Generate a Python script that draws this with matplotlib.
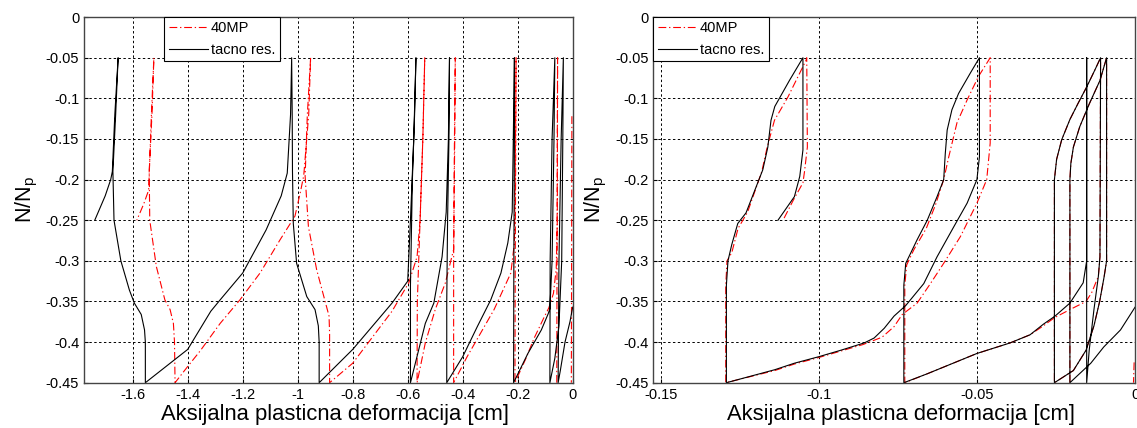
import numpy as np
import matplotlib.pyplot as plt

# -------------------------------------------------------------
# Data
# -------------------------------------------------------------
nan = np.nan

# left panel, "tacno res." (exact result)
left_exact_x = [0.0, -0.01, -0.028, -0.045, -0.053,
                -0.05, -0.042, -0.034,
                -0.036, -0.04, -0.05, -0.065, -0.083,
                -0.082, -0.075, -0.065,
                -0.068, -0.075, -0.083,
                -0.089, -0.114, -0.163, -0.215,
                -0.214, -0.212, -0.212,
                -0.216, -0.22,
                -0.236, -0.261, -0.298, -0.347, -0.40, -0.458,
                -0.458, -0.455, -0.45, -0.448,
                -0.452, -0.46, -0.475,
                -0.505, -0.536, -0.59,
                -0.59, -0.583, -0.575, -0.570,
                -0.578, -0.59, -0.60,
                -0.657, -0.80, -0.922,
                -0.922, -0.925, -0.937, -0.967, -1.004, -1.016, -1.019, -1.02, -1.022,
                -1.026, -1.038,
                -1.06, -1.115, -1.2, -1.282, -1.316, -1.40, -1.554,
                -1.554, -1.557, -1.569, -1.594, -1.612, -1.643, -1.668, -1.672, -1.662, -1.653,
                -1.665, -1.674, -1.68,
                -1.70, -1.738]
left_exact_y = [-0.357, -0.375, -0.40, -0.435, -0.45,
                -0.30, -0.15, -0.05,
                -0.15, -0.30, -0.38, -0.42, -0.45,
                -0.30, -0.15, -0.05,
                -0.15, -0.30, -0.359,
                -0.365, -0.385, -0.414, -0.45,
                -0.30, -0.15, -0.05,
                -0.15, -0.24,
                -0.278, -0.315, -0.348, -0.381, -0.418, -0.45,
                -0.35, -0.25, -0.15, -0.05,
                -0.15, -0.24, -0.295,
                -0.352, -0.377, -0.45,
                -0.33, -0.20, -0.12, -0.05,
                -0.15, -0.25, -0.325,
                -0.352, -0.409, -0.45,
                -0.40, -0.38, -0.36, -0.344, -0.303, -0.254, -0.19, -0.12, -0.05,
                -0.12, -0.192,
                -0.22, -0.262, -0.315, -0.348, -0.362, -0.409, -0.45,
                -0.40, -0.385, -0.366, -0.352, -0.336, -0.30, -0.25, -0.19, -0.12, -0.05,
                -0.12, -0.19, -0.20,
                -0.22, -0.25]

# left panel, "40MP"
left_40mp_x = [-0.003, -0.004, -0.005, nan,
               -0.058, -0.057, -0.056, -0.055,
               -0.056, -0.06, -0.07, -0.087,
               -0.102, -0.14, -0.17, -0.21,
               -0.209, -0.207, -0.206,
               -0.208, -0.212,
               -0.225, -0.286, -0.384, -0.433,
               -0.433, -0.43, -0.427,
               -0.429, -0.433,
               -0.463, -0.50, -0.536, -0.566,
               -0.565, -0.555, -0.545, -0.538,
               -0.545, -0.555, -0.566,
               -0.596, -0.657, -0.80, -0.884,
               -0.884, -0.886, -0.901, -0.931, -0.961, -0.973, -0.965, -0.953,
               -0.96, -0.972, -0.978,
               -0.99, -1.01, -1.064, -1.137, -1.21, -1.282, -1.355, -1.40, -1.446,
               -1.448, -1.452, -1.464, -1.483, -1.514, -1.538, -1.540, -1.53, -1.523,
               -1.532, -1.542,
               -1.56, -1.585]
left_40mp_y = [-0.122, -0.30, -0.45, nan,
               -0.45, -0.30, -0.15, -0.05,
               -0.25, -0.31, -0.34, -0.358,
               -0.368, -0.395, -0.42, -0.45,
               -0.30, -0.15, -0.05,
               -0.15, -0.278,
               -0.315, -0.36, -0.418, -0.45,
               -0.30, -0.15, -0.05,
               -0.15, -0.286,
               -0.327, -0.36, -0.401, -0.45,
               -0.35, -0.25, -0.15, -0.05,
               -0.15, -0.25, -0.295,
               -0.327, -0.362, -0.426, -0.45,
               -0.39, -0.368, -0.349, -0.311, -0.258, -0.196, -0.12, -0.05,
               -0.12, -0.17, -0.195,
               -0.215, -0.245, -0.274, -0.315, -0.348, -0.377, -0.411, -0.43, -0.45,
               -0.40, -0.377, -0.36, -0.348, -0.307, -0.25, -0.19, -0.12, -0.05,
               -0.12, -0.213,
               -0.23, -0.25]

# right panel, "tacno res."
right_exact_x = [0.0, -0.0046, -0.0099, -0.014, -0.0206,
                 -0.0206, -0.0206, -0.0203, -0.0195, -0.0175, -0.0145, -0.0111, -0.009,
                 -0.009, -0.0098, -0.0112, -0.013, -0.0155, -0.0195, -0.0255,
                 -0.0255, -0.0248, -0.0232, -0.0206, -0.018, -0.0153, -0.0127, -0.0109,
                 -0.0111, -0.0116, -0.013, -0.0145, -0.0153,
                 -0.0153, -0.0153,
                 -0.0164, -0.0206, -0.0253, -0.029, -0.0332,
                 -0.0395, -0.05, -0.0657, -0.0731,
                 -0.0731, -0.0725, -0.0715, -0.0689, -0.0657, -0.0626, -0.0605, -0.06,
                 -0.0594, -0.0579, -0.0558, -0.0521, -0.0492,
                 -0.0492, -0.05, -0.0531, -0.0573, -0.0626, -0.0668, -0.0725, -0.0762,
                 -0.0793, -0.0825, -0.0856, -0.093, -0.1, -0.1077, -0.1139, -0.1292,
                 -0.1292, -0.1287, -0.1275, -0.1256, -0.123, -0.1177, -0.1161, -0.1151,
                 -0.1139, -0.1092, -0.105,
                 -0.105, -0.106, -0.1077, -0.1129]
right_exact_y = [-0.357, -0.385, -0.406, -0.426, -0.45,
                 -0.30, -0.20, -0.18, -0.16, -0.135, -0.107, -0.078, -0.05,
                 -0.30, -0.32, -0.35, -0.38, -0.41, -0.435, -0.45,
                 -0.20, -0.175, -0.151, -0.126, -0.106, -0.086, -0.065, -0.05,
                 -0.295, -0.319, -0.36, -0.41, -0.45,
                 -0.05, -0.30,
                 -0.327, -0.352, -0.368, -0.378, -0.391,
                 -0.401, -0.414, -0.439, -0.45,
                 -0.33, -0.303, -0.295, -0.274, -0.25, -0.221, -0.20, -0.168,
                 -0.139, -0.114, -0.094, -0.069, -0.05,
                 -0.172, -0.20, -0.229, -0.258, -0.295, -0.328, -0.355, -0.368,
                 -0.383, -0.395, -0.401, -0.41, -0.418, -0.426, -0.434, -0.45,
                 -0.33, -0.30, -0.28, -0.254, -0.241, -0.188, -0.16, -0.127,
                 -0.11, -0.0775, -0.05,
                 -0.1635, -0.196, -0.221, -0.25]

# right panel, "40MP"
right_40mp_x = [-0.0003, -0.0005, nan,
                -0.0206, -0.0206, -0.0203, -0.0195, -0.0175, -0.0145, -0.0111, -0.009,
                -0.009, -0.0098, -0.0112, -0.013, -0.0155, -0.0195, -0.0255,
                -0.0255, -0.0248, -0.0232, -0.0206, -0.018, -0.0153, -0.0127, -0.0109,
                -0.0111, -0.0116, -0.0137, -0.0155, -0.0206, -0.0255, -0.029, -0.0332,
                -0.0395, -0.05, -0.0657, -0.0728,
                -0.0728, -0.0722, -0.0699, -0.066, -0.063, -0.0605, -0.0589, -0.0563,
                -0.0531, -0.0495, -0.0458,
                -0.0458, -0.0469, -0.05, -0.0552, -0.0605, -0.0647, -0.0689, -0.0736,
                -0.0762, -0.08, -0.086, -0.093, -0.1, -0.1077, -0.1139, -0.1294,
                -0.1294, -0.129, -0.1275, -0.1255, -0.1225, -0.118, -0.1163, -0.114,
                -0.1097, -0.104, -0.1038,
                -0.1036, -0.1045, -0.105, -0.108, -0.1113]
right_40mp_y = [-0.425, -0.45, nan,
                -0.45, -0.20, -0.18, -0.16, -0.135, -0.107, -0.078, -0.05,
                -0.30, -0.32, -0.35, -0.38, -0.41, -0.435, -0.45,
                -0.20, -0.175, -0.151, -0.126, -0.106, -0.086, -0.065, -0.05,
                -0.295, -0.319, -0.339, -0.35, -0.36, -0.37, -0.38, -0.391,
                -0.401, -0.414, -0.439, -0.45,
                -0.33, -0.305, -0.286, -0.26, -0.23, -0.20, -0.172, -0.13,
                -0.102, -0.073, -0.05,
                -0.155, -0.20, -0.229, -0.27, -0.303, -0.328, -0.352, -0.366,
                -0.381, -0.394, -0.403, -0.411, -0.419, -0.427, -0.435, -0.45,
                -0.33, -0.30, -0.29, -0.26, -0.24, -0.19, -0.16, -0.127,
                -0.098, -0.053, -0.05,
                -0.16, -0.19, -0.204, -0.225, -0.25]

series_names = ["40MP", "tacno res."]

yticks = [0, -0.05, -0.1, -0.15, -0.2, -0.25, -0.3, -0.35, -0.4, -0.45]
ytick_labels = ["0", "-0.05", "-0.1", "-0.15", "-0.2", "-0.25", "-0.3", "-0.35", "-0.4", "-0.45"]
left_xticks = [-1.6, -1.4, -1.2, -1.0, -0.8, -0.6, -0.4, -0.2, 0]
left_xtick_labels = ["-1.6", "-1.4", "-1.2", "-1", "-0.8", "-0.6", "-0.4", "-0.2", "0"]
right_xticks = [-0.15, -0.1, -0.05, 0]
right_xtick_labels = ["-0.15", "-0.1", "-0.05", "0"]

xlabel = "Aksijalna plasticna deformacija [cm]"
ylabel = r"N/N$_\mathregular{p}$"

# -------------------------------------------------------------
# Style
# -------------------------------------------------------------
plt.rcParams['font.family'] = ['Liberation Sans', 'DejaVu Sans']
plt.rcParams['mathtext.fontset'] = 'custom'
plt.rcParams['mathtext.rm'] = 'Liberation Sans'

fig = plt.figure(figsize=(11.37, 4.28), dpi=100)
ax_l = fig.add_axes([0.0739, 0.1058, 0.4298, 0.8542])
ax_r = fig.add_axes([0.5746, 0.1058, 0.4237, 0.8542])

panels = [
    (ax_l, left_40mp_x, left_40mp_y, left_exact_x, left_exact_y,
     (-1.777, 0), left_xticks, left_xtick_labels, (0.164, 1.0)),
    (ax_r, right_40mp_x, right_40mp_y, right_exact_x, right_exact_y,
     (-0.1523, 0), right_xticks, right_xtick_labels, (0.0, 1.0)),
]

for ax, rx, ry, bx, by, xlim, xt, xtl, leg_pos in panels:
    ax.plot(rx, ry, color='red', linestyle=(0, (7, 2.5, 1.2, 2.5)), linewidth=0.8,
            label=series_names[0])
    ax.plot(bx, by, color='black', linestyle='-', linewidth=0.8, label=series_names[1])
    ax.set_xlim(xlim)
    ax.set_ylim(-0.45, 0)
    ax.set_xticks(xt)
    ax.set_xticklabels(xtl)
    ax.set_yticks(yticks)
    ax.set_yticklabels(ytick_labels)
    ax.tick_params(direction='in', length=3, labelsize=10.5, colors='black')
    ax.grid(True, color='black', linestyle=(0, (2.5, 2.5)), linewidth=0.7)
    for s in ax.spines.values():
        s.set_color('#444444')
        s.set_linewidth(1.0)
    ax.set_xlabel(xlabel, fontsize=15.8, labelpad=2)
    ax.xaxis.label.set_x(0.514)
    ax.set_ylabel(ylabel, fontsize=15.5, labelpad=4)
    leg = ax.legend(loc='upper left', bbox_to_anchor=leg_pos, borderaxespad=0,
                    fontsize=10.5, fancybox=False, framealpha=1, edgecolor='black',
                    handlelength=2.7, handletextpad=0.2, borderpad=0.3, labelspacing=0.5)
    leg.get_frame().set_linewidth(0.8)

fig.savefig("out.png", dpi=100)
